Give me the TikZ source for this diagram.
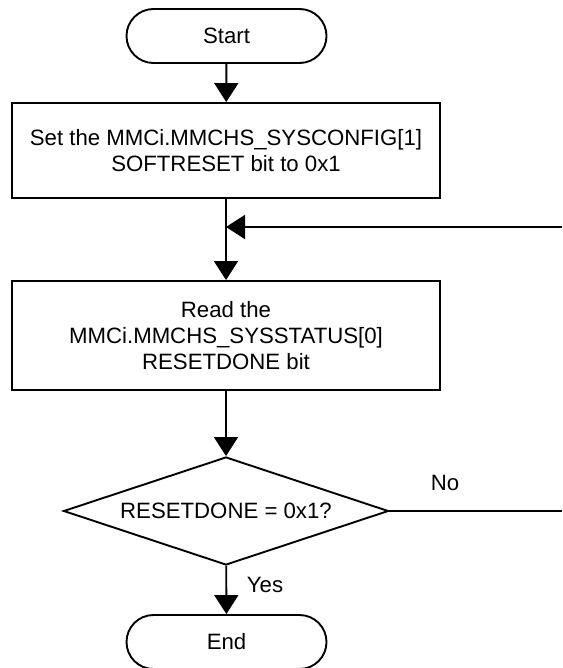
\documentclass[tikz,border=0pt]{standalone}
\usepackage{fontspec}
\setmainfont{Liberation Sans}
\usetikzlibrary{shapes.misc,shapes.geometric,arrows.meta}
\begin{document}
\begin{tikzpicture}[x=1pt,y=-1pt,
  every node/.style={font=\fontsize{22.2}{26}\selectfont},
  line/.style={line width=1.9pt},
  arr/.style={line width=1.9pt, -{Triangle[length=19pt,width=24pt]}},
  term/.style={rounded rectangle, draw, line width=1.9pt, minimum width=200pt, minimum height=54pt, inner sep=0pt},
  proc/.style={rectangle, draw, line width=1.9pt, minimum width=428pt, align=center, inner sep=0pt},
  dec/.style={diamond, draw, line width=1.9pt, aspect=3, minimum width=325pt, minimum height=108pt, inner sep=0pt},
  lbl/.style={inner sep=0pt}
]
\useasboundingbox (0,0) rectangle (562,668);
\node[term] (start) at (226.5,36) {Start};
\node[proc, minimum height=95pt] (set) at (226,150.5) {Set the MMCi.MMCHS\_SYSCONFIG[1]\\SOFTRESET bit to 0x1};
\node[proc, minimum height=109pt] (read) at (226,335.5) {Read the\\MMCi.MMCHS\_SYSSTATUS[0]\\RESETDONE bit};
\node[dec] (dec) at (226,511) {RESETDONE = 0x1?};
\node[term] (end) at (226.5,642) {End};
\coordinate (join) at (226,227);
\coordinate (loopin) at (562,227);
\coordinate (loopout) at (562,511);
\draw[arr] (start) -- (set);
\draw[line] (set) -- (join);
\draw[arr] (join) -- (read);
\draw[arr] (loopin) -- (join);
\draw[arr] (read) -- (dec);
\draw[line] (dec.east) -- (loopout);
\node[lbl] (no) at (445,483) {No};
\draw[arr] (dec) -- (end);
\node[lbl] (yes) at (265,585) {Yes};
\end{tikzpicture}
\end{document}
